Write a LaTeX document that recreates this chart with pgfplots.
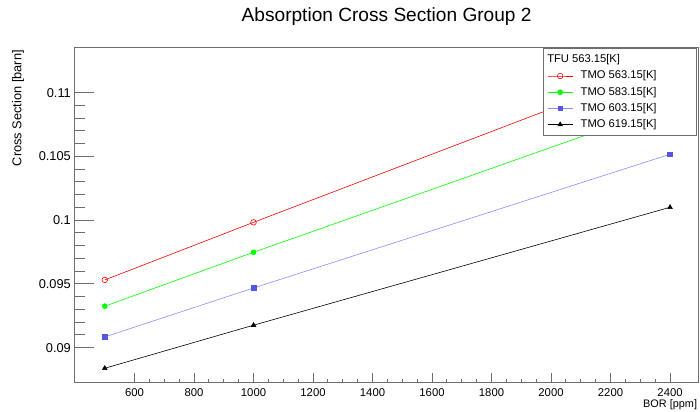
\documentclass[border=0pt]{standalone}
\usepackage{pgfplots}
\pgfplotsset{compat=1.18}
\usepackage{fontspec}
\setmainfont{Liberation Sans}
\definecolor{bluel}{RGB}{140,140,255}
\definecolor{bluem}{RGB}{85,85,230}
\definecolor{framec}{RGB}{110,110,110}
\begin{document}
\begin{tikzpicture}
\path[use as bounding box] (-75bp,-29.3bp) rectangle (625bp,382.7bp);
\begin{axis}[
  at={(0,0)}, anchor=south west,
  scale only axis, width=623.3bp, height=335.4bp,
  xmin=400, xmax=2495, ymin=0.08725, ymax=0.11356,
  xtick={600,800,...,2400}, minor x tick num=3,
  ytick={0.09,0.095,0.1,0.105,0.11}, minor y tick num=4,
  tick align=inside, xtick pos=bottom, ytick pos=left,
  axis line style={framec, line width=1bp},
  every tick/.style={framec, line width=1bp},
  xtick style={/pgfplots/major tick length=9.5bp,/pgfplots/minor tick length=4bp},
  ytick style={/pgfplots/major tick length=19bp,/pgfplots/minor tick length=10bp},
  scaled ticks=false,
  /pgf/number format/.cd, fixed, precision=3, 1000 sep={}, assume math mode=true,
  /pgfplots/.cd,
  xticklabel style={inner sep=0pt, anchor=north, yshift=-5.3bp, font=\fontsize{11.3bp}{13bp}\selectfont},
  yticklabel style={inner sep=0pt, anchor=east, xshift=-4bp, font=\fontsize{12.8bp}{15bp}\selectfont},
  title={Absorption Cross Section Group 2},
  title style={at={(axis description cs:0.5,1)}, anchor=base, inner sep=0pt, yshift=20bp, font=\fontsize{19.1bp}{22bp}\selectfont},
  xlabel={BOR [ppm]},
  xlabel style={at={(axis description cs:1,0)}, anchor=north east, inner sep=0pt, xshift=-1bp, yshift=-16.5bp, font=\fontsize{10.9bp}{13bp}\selectfont},
  ylabel={Cross Section [barn]},
  ylabel style={at={(axis description cs:-0.0915,0.992)}, anchor=east, inner sep=0pt, font=\fontsize{12.8bp}{15bp}\selectfont},
  legend cell align=left,
  legend image code/.code={
    \draw[mark repeat=2,mark phase=2] plot coordinates {(0bp,0bp) (12.5bp,0bp) (25bp,0bp)};
  },
  legend style={at={(rel axis cs:0.998,0.997)}, anchor=north east, draw=framec, line width=0.8bp, fill=white,
    inner xsep=4bp, inner ysep=3bp, font=\fontsize{11.2bp}{13bp}\selectfont,
    nodes={inner xsep=0bp, inner ysep=2.7bp, text height=8.3bp, text depth=2.5bp},
    column sep=7.7bp},
]
\addlegendimage{empty legend}
\addlegendentry{\hspace{-33.4bp}TFU 563.15[K]}
\addplot[color=red, line width=0.6bp, mark=o, mark size=2.8bp, mark options={solid, line width=0.6bp}]
  coordinates {(500,0.09531) (1000,0.09983) (2400,0.1123)};
\addlegendentry{\makebox[112bp][l]{TMO 563.15[K]}}
\addplot[color=green, line width=0.6bp, mark=*, mark size=2.5bp]
  coordinates {(500,0.09325) (1000,0.09748) (2400,0.1090)};
\addlegendentry{\makebox[112bp][l]{TMO 583.15[K]}}
\addplot[color=bluel, line width=0.6bp, mark=square*, mark size=2.3bp, mark options={fill=bluem, draw=bluem}]
  coordinates {(500,0.09084) (1000,0.09468) (2400,0.10517)};
\addlegendentry{\makebox[112bp][l]{TMO 603.15[K]}}
\addplot[color=black, line width=0.6bp, mark=triangle*, mark size=2.6bp]
  coordinates {(500,0.08838) (1000,0.09176) (2400,0.10101)};
\addlegendentry{\makebox[112bp][l]{TMO 619.15[K]}}
\end{axis}
\end{tikzpicture}
\end{document}
